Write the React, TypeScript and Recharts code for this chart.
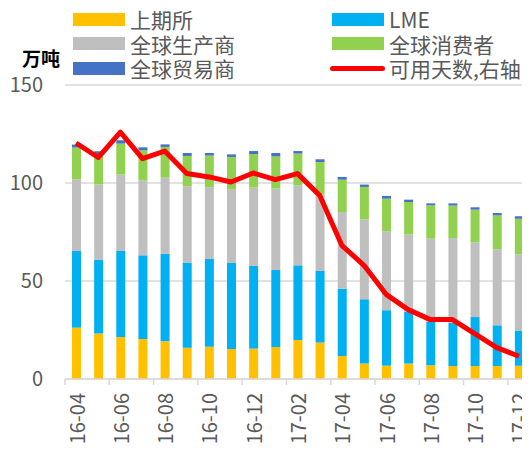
import React from "react";
import { Bar, CartesianGrid, ComposedChart, Line, XAxis, YAxis } from "recharts";

const months = [
  "16-04", "16-05", "16-06", "16-07", "16-08", "16-09", "16-10", "16-11", "16-12", "17-01", "17-02",
  "17-03", "17-04", "17-05", "17-06", "17-07", "17-08", "17-09", "17-10", "17-11", "17-12",
];
const shfe = [26.2, 23.2, 21.4, 20.4, 19.2, 16.0, 16.5, 15.3, 15.5, 16.3, 19.9, 18.6, 11.7, 7.9, 6.8, 7.9, 7.0, 6.6, 6.6, 6.6, 6.8];
const lme = [39.1, 37.5, 43.9, 42.7, 44.6, 43.4, 44.7, 43.9, 42.2, 39.3, 38.1, 36.5, 34.4, 32.8, 28.3, 26.3, 22.1, 22.0, 25.0, 20.8, 18.0];
const producers = [36.6, 38.6, 39.0, 38.3, 38.9, 38.9, 36.6, 37.6, 40.0, 41.5, 40.8, 39.1, 39.1, 40.8, 40.3, 39.5, 42.5, 43.3, 38.1, 38.8, 38.8];
const consumers = [16.2, 15.3, 15.8, 15.3, 15.7, 15.5, 16.2, 16.5, 17.1, 16.5, 16.2, 16.5, 16.5, 16.5, 16.6, 16.6, 17.0, 16.6, 16.7, 17.3, 18.2];
const traders = [1.5, 1.6, 1.7, 1.5, 1.3, 1.5, 1.3, 1.3, 1.5, 1.7, 1.3, 1.4, 1.4, 1.2, 1.4, 1.2, 1.0, 1.1, 1.2, 1.2, 1.2];
const days = [120.4, 113.0, 126.0, 112.4, 116.3, 104.8, 103.1, 100.5, 105.1, 101.7, 104.8, 93.7, 68.2, 58.0, 43.2, 35.4, 30.3, 30.3, 23.2, 16.0, 11.6];
const leftTicks = [0, 50, 100, 150];

const data = months.map((m, i) => ({
  month: m,
  shfe: shfe[i],
  lme: lme[i],
  producers: producers[i],
  consumers: consumers[i],
  traders: traders[i],
  days: days[i],
}));

const FONT = "'Noto Sans CJK SC', 'Noto Sans', sans-serif";
const TEXT = "#595959";
const GRID = "#d9d9d9";
const HALF_BAND = (522 - 57) / 21 / 2;

const XTick = (props: any) => {
  const { x, y, payload } = props;
  return (
    <g transform={`translate(${x},${y})`}>
      <line x1={-HALF_BAND} x2={-HALF_BAND} y1={0} y2={6} stroke={GRID} strokeWidth={1.5} />
      <text transform="rotate(-90)" x={-14} y={0} textAnchor="end" dominantBaseline="central" fill={TEXT} fontSize={20} fontFamily={FONT}>
        {payload.value}
      </text>
    </g>
  );
};

const legendItems = [
  { name: "上期所", color: "#FFC000", x: 73, row: 0 },
  { name: "LME", color: "#00B0F0", x: 332, row: 0 },
  { name: "全球生产商", color: "#BFBFBF", x: 73, row: 1 },
  { name: "全球消费者", color: "#92D050", x: 332, row: 1 },
  { name: "全球贸易商", color: "#4472C4", x: 73, row: 2 },
  { name: "可用天数,右轴", color: "#FF0000", x: 332, row: 2, line: true },
];

export default function App() {
  return (
    <div style={{ position: "relative", width: 522, height: 446, fontFamily: FONT, overflow: "hidden" }}>
      {legendItems.map((it) => {
        const cy = 19 + it.row * 24.5 - 8;
        return (
          <div key={it.name}>
            {it.line ? (
              <div style={{ position: "absolute", left: it.x - 10, top: cy - 2.5, width: 55, height: 5, borderRadius: 3, background: it.color }} />
            ) : (
              <div style={{ position: "absolute", left: it.x - 8, top: cy - 6.5, width: 52, height: 13, background: it.color }} />
            )}
            <div style={{ position: "absolute", left: it.x + 49, top: cy - 11, height: 22, lineHeight: "22px", fontSize: 21, color: TEXT, whiteSpace: "nowrap" }}>
              {it.name}
            </div>
          </div>
        );
      })}
      <div style={{ position: "absolute", left: 14, top: 39, fontSize: 19, fontWeight: 700, color: "#000", lineHeight: "22px" }}>万吨</div>
      <div style={{ position: "absolute", left: 0, top: 0 }}>
        <ComposedChart width={522} height={446} data={data} margin={{ top: 77, right: 0, left: 0, bottom: 0 }} barCategoryGap={0}>
          <CartesianGrid vertical={false} stroke={GRID} strokeWidth={1.5} />
          <XAxis
            dataKey="month"
            interval={1}
            height={75}
            tickLine={false}
            tickSize={0}
            tickMargin={0}
            axisLine={{ stroke: GRID, strokeWidth: 1.5 }}
            tick={<XTick />}
          />
          <YAxis
            width={57}
            domain={[0, 150]}
            ticks={leftTicks}
            axisLine={false}
            tickLine={false}
            tickSize={0}
            tickMargin={22}
            tick={{ fill: TEXT, fontSize: 20, fontFamily: FONT }}
          />
          <YAxis yAxisId="right" orientation="right" hide domain={[0, 150]} />
          <Bar dataKey="shfe" name="上期所" stackId="a" fill="#FFC000" barSize={9} isAnimationActive={false} />
          <Bar dataKey="lme" name="LME" stackId="a" fill="#00B0F0" barSize={9} isAnimationActive={false} />
          <Bar dataKey="producers" name="全球生产商" stackId="a" fill="#BFBFBF" barSize={9} isAnimationActive={false} />
          <Bar dataKey="consumers" name="全球消费者" stackId="a" fill="#92D050" barSize={9} isAnimationActive={false} />
          <Bar dataKey="traders" name="全球贸易商" stackId="a" fill="#4472C4" barSize={9} isAnimationActive={false} />
          <Line
            yAxisId="right"
            type="linear"
            dataKey="days"
            name="可用天数,右轴"
            stroke="#FF0000"
            strokeWidth={5}
            strokeLinejoin="round"
            dot={false}
            activeDot={false}
            isAnimationActive={false}
          />
        </ComposedChart>
      </div>
    </div>
  );
}
